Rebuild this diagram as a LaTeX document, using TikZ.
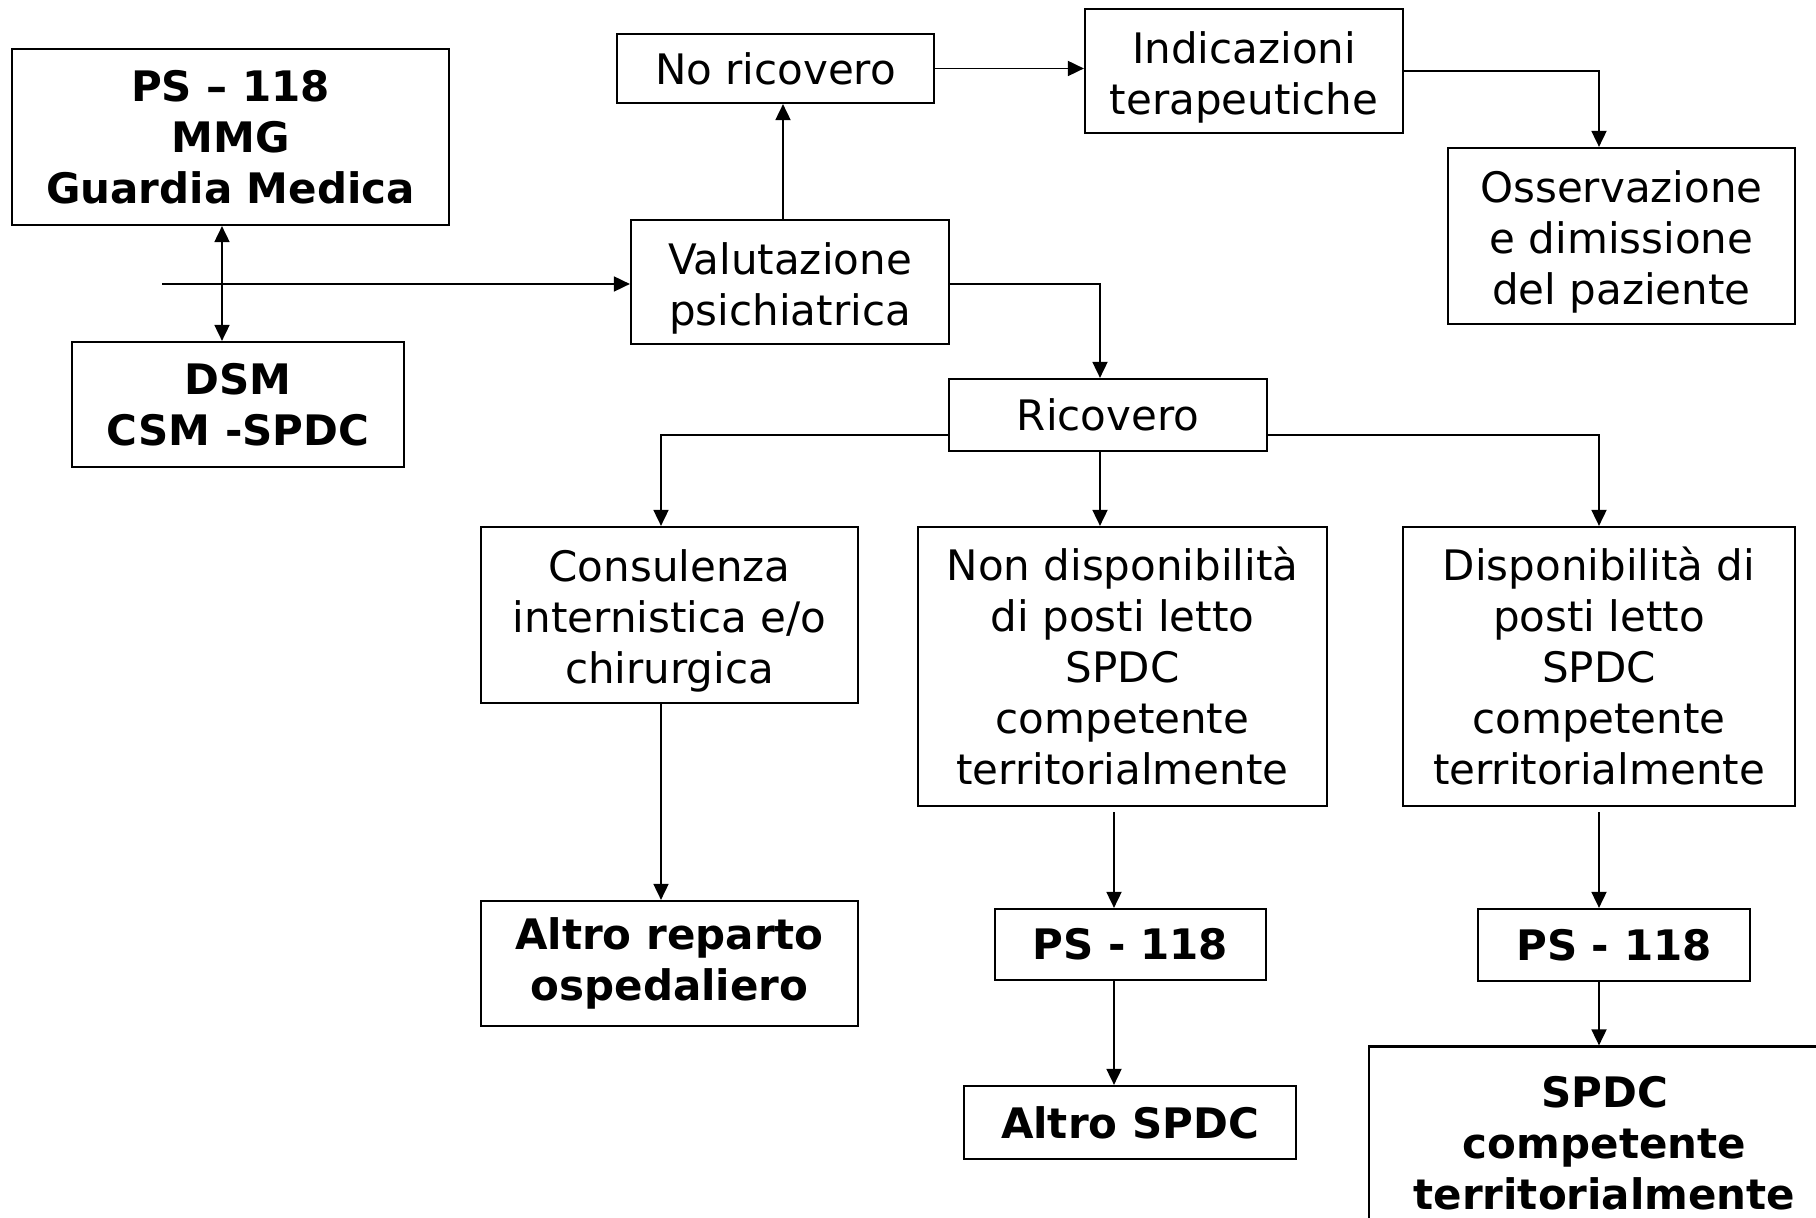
\documentclass[tikz,border=0pt]{standalone}
\usepackage{fontspec}
\setmainfont{DejaVu Sans}
\usetikzlibrary{arrows.meta,calc}
\newcommand{\lowstrut}{\rule{0pt}{22pt}}
\begin{document}
\begin{tikzpicture}[x=0.5pt,y=-0.5pt,
  box/.style={draw,line width=1.1pt,inner sep=0pt,align=center,
    font=\fontsize{21}{25.5}\selectfont},
  bbox/.style={box,font=\fontsize{21}{25.5}\selectfont\bfseries},
  tip/.tip={Triangle[length=8pt,width=7.5pt]},
  conn/.style={line width=0.9pt,-tip}]
\clip (0,0) rectangle (1816,1218);
\fill[white] (0,0) rectangle (1816,1218);
% nodes
\node[bbox,minimum width=218.5pt,minimum height=88pt] (ps) at (230.5,137) {PS – 118\\MMG\\Guardia Medica};
\node[bbox,minimum width=166pt,minimum height=62.5pt] (dsm) at (238,404.5) {DSM\\CSM -SPDC};
\node[box,minimum width=158.5pt,minimum height=34.5pt] (noric) at (775.5,68.5) {No ricovero};
\node[box,minimum width=159pt,minimum height=62pt] (ind) at (1244,71) {\lowstrut Indicazioni\\terapeutiche};
\node[box,minimum width=173.5pt,minimum height=88pt] (oss) at (1621.5,236) {\lowstrut Osservazione\\e dimissione\\del paziente};
\node[box,minimum width=159pt,minimum height=62pt] (val) at (790,282) {\lowstrut Valutazione\\psichiatrica};
\node[box,minimum width=159pt,minimum height=36pt] (ric) at (1108,415) {Ricovero};
\node[box,minimum width=188.5pt,minimum height=88pt] (cons) at (669.5,615) {\lowstrut Consulenza\\internistica e/o\\chirurgica};
\node[box,minimum width=204.5pt,minimum height=139.5pt] (nondisp) at (1122.5,666.5) {Non disponibilità\\di posti letto\\SPDC\\competente\\territorialmente};
\node[box,minimum width=196pt,minimum height=139.5pt] (disp) at (1599,666.5) {Disponibilità di\\posti letto\\SPDC\\competente\\territorialmente};
\node[bbox,minimum width=188.5pt,minimum height=62.5pt] (altrorep) at (669.5,963.5) {Altro reparto\\ospedaliero};
\node[bbox,minimum width=135.5pt,minimum height=35.5pt] (psmid) at (1130.5,944.5) {PS - 118};
\node[bbox,minimum width=166pt,minimum height=36.5pt] (altrospdc) at (1130,1122.5) {Altro SPDC};
\node[bbox,minimum width=136pt,minimum height=36pt] (psright) at (1614,945) {PS - 118};
\node[bbox,minimum width=235.5pt,minimum height=97pt] (spdc) at (1604.5,1143.5) {SPDC\\competente\\territorialmente};
% helper coordinates
\coordinate (start) at (162,284);
\coordinate (xdsm) at (222,0);
\coordinate (xval) at (783,0);
\coordinate (xoss) at (1599,0);
\coordinate (xric) at (1100,0);
\coordinate (xcons) at (661,0);
\coordinate (xmid) at (1114,0);
\coordinate (xright) at (1599,0);
\coordinate (yric) at (0,435);
\coordinate (yval) at (0,284);
% connectors
\draw[conn] (start) -- (val.west |- yval);
\draw[line width=0.9pt,tip-tip] (ps.south -| xdsm) -- (dsm.north -| xdsm);
\draw[conn] (val.north -| xval) -- (noric.south -| xval);
\draw[conn] (noric.east) -- (noric.east -| ind.west);
\draw[conn] (ind.east) -| (oss.north -| xoss);
\draw[conn] (val.east |- yval) -| (ric.north -| xric);
\draw[conn] (ric.west |- yric) -| (cons.north -| xcons);
\draw[conn] (ric.south -| xric) -- (nondisp.north -| xric);
\draw[conn] (ric.east |- yric) -| (disp.north -| xright);
\draw[conn] (cons.south -| xcons) -- (altrorep.north -| xcons);
\draw[conn] ($(nondisp.south -| xmid)+(0,5)$) -- (psmid.north -| xmid);
\draw[conn] (psmid.south -| xmid) -- (altrospdc.north -| xmid);
\draw[conn] ($(disp.south -| xright)+(0,5)$) -- (psright.north -| xright);
\draw[conn] (psright.south -| xright) -- (spdc.north -| xright);
\end{tikzpicture}
\end{document}
